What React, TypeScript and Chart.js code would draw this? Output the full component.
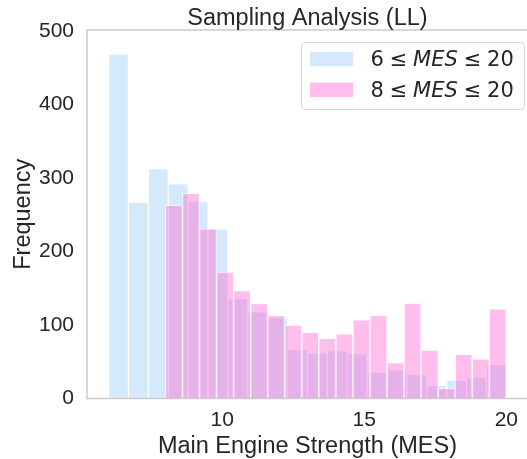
import React, { useEffect, useRef } from "react";
import { Chart, registerables } from "chart.js";

Chart.register(...registerables);

// ---------------- data ----------------
const TITLE = "Sampling Analysis (LL)";
const X_LABEL = "Main Engine Strength (MES)";
const Y_LABEL = "Frequency";
const VAR_NAME = "MES";

const BLUE_RANGE = [6, 20];
const PINK_RANGE = [8, 20];

const blueCounts = [469, 267, 313, 292, 268, 231, 136, 118, 110, 67, 62, 65, 61, 36, 39, 33, 18, 25, 29, 46];
const pinkCounts = [263, 279, 231, 172, 147, 129, 113, 100, 90, 82, 88, 107, 113, 49, 130, 66, 14, 60, 54, 122];

const xTickValues = [10, 15, 20];
const yTickValues = [0, 100, 200, 300, 400, 500];

// ---------------- style ----------------
const W = 527;
const H = 459;
const X_MIN = 5.24;
const X_MAX = 20.47;
const X_FULL_MAX = 20.76;
const Y_MAX = 501.4;

const BLUE = "rgba(147, 202, 247, 0.4)";
const PINK = "rgba(255, 92, 205, 0.4)";
const EDGE = "rgba(255, 255, 255, 0.55)";
const TEXT = "#262626";
const SPINE = "#cccccc";
const SANS = "'Liberation Sans', Arial, sans-serif";
const MATH = "'DejaVu Sans', sans-serif";

function binPoints(range: number[], counts: number[]) {
  const [lo, hi] = range;
  const w = (hi - lo) / counts.length;
  return counts.map((c, i) => ({ x: lo + (i + 0.5) * w, y: c }));
}

const legendItems = [
  { lo: String(BLUE_RANGE[0]), hi: String(BLUE_RANGE[1]), color: BLUE },
  { lo: String(PINK_RANGE[0]), hi: String(PINK_RANGE[1]), color: PINK },
];

const decorPlugin = {
  id: "decor",
  afterDatasetsDraw(chart: any) {
    const { ctx, chartArea, scales } = chart;
    const { left, top, bottom } = chartArea;
    ctx.save();
    // spines
    ctx.strokeStyle = SPINE;
    ctx.lineWidth = 1.5;
    ctx.beginPath();
    ctx.moveTo(W + 5, top);
    ctx.lineTo(left, top);
    ctx.lineTo(left, bottom);
    ctx.lineTo(W + 5, bottom);
    ctx.stroke();

    const cx = (left + scales.x.getPixelForValue(X_FULL_MAX)) / 2;
    const cy = (top + bottom) / 2;
    ctx.fillStyle = TEXT;
    ctx.textAlign = "center";
    ctx.textBaseline = "alphabetic";
    // title
    ctx.font = `23.5px ${SANS}`;
    ctx.fillText(TITLE, cx, 25);
    // x label
    ctx.fillText(X_LABEL, cx, 453.3);
    // y label
    ctx.save();
    ctx.translate(29.5, cy);
    ctx.rotate(-Math.PI / 2);
    ctx.fillText(Y_LABEL, 0, 0);
    ctx.restore();

    // legend
    const lx0 = 301, ly0 = 42, lx1 = 524, ly1 = 109, r = 4;
    ctx.beginPath();
    ctx.roundRect(lx0 + 0.5, ly0 + 0.5, lx1 - lx0, ly1 - ly0, r);
    ctx.fillStyle = "rgba(255,255,255,0.8)";
    ctx.fill();
    ctx.strokeStyle = "#d6d6d6";
    ctx.lineWidth = 1;
    ctx.stroke();

    const baselines = [66.3, 97];
    const fs = 21;
    const thick = (5 / 18) * fs;
    legendItems.forEach((it, k) => {
      const base = baselines[k];
      ctx.fillStyle = it.color;
      ctx.fillRect(310, base - 14.5, 43, 14.5);
      ctx.fillStyle = TEXT;
      ctx.textAlign = "left";
      let x = 370.5;
      const put = (s: string, italic: boolean) => {
        ctx.font = `${italic ? "italic " : ""}${fs}px ${MATH}`;
        ctx.fillText(s, x, base);
        x += ctx.measureText(s).width;
      };
      put(it.lo, false);
      x += thick;
      put("\u2264", false);
      x += thick;
      put(VAR_NAME, true);
      x += thick;
      put("\u2264", false);
      x += thick;
      put(it.hi, false);
    });
    ctx.restore();
  },
};

export default function App() {
  const ref = useRef<HTMLCanvasElement | null>(null);

  useEffect(() => {
    document.body.style.margin = "0";
    const canvas = ref.current;
    if (!canvas) return;
    const tickFont = { family: SANS, size: 21 };
    const chart = new Chart(canvas, {
      type: "bar",
      data: {
        datasets: [
          {
            label: "blue",
            data: binPoints(BLUE_RANGE, blueCounts) as any,
            backgroundColor: BLUE,
            borderColor: EDGE,
            borderWidth: 1,
            xAxisID: "x2",
            grouped: false,
            barPercentage: 1,
            categoryPercentage: 1,
            order: 1,
          } as any,
          {
            label: "pink",
            data: binPoints(PINK_RANGE, pinkCounts) as any,
            backgroundColor: PINK,
            borderColor: EDGE,
            borderWidth: 1,
            xAxisID: "x",
            grouped: false,
            barPercentage: 1,
            categoryPercentage: 1,
            order: 0,
          } as any,
        ],
      },
      options: {
        animation: false,
        responsive: false,
        devicePixelRatio: 1,
        layout: { padding: { top: 30, left: 0, right: 0, bottom: 0 } },
        plugins: {
          legend: { display: false },
          title: { display: false },
          tooltip: { enabled: false },
        },
        scales: {
          x: {
            type: "linear",
            position: "bottom",
            offset: false,
            min: X_MIN,
            max: X_MAX,
            grid: { display: false, drawTicks: false, offset: false },
            border: { display: false },
            ticks: { font: tickFont, color: TEXT, padding: 9, maxRotation: 0 },
            afterBuildTicks: (s: any) => {
              s.ticks = xTickValues.map((v) => ({ value: v }));
            },
            afterFit: (s: any) => {
              s.height = 60.5;
            },
          },
          x2: {
            type: "linear",
            position: "bottom",
            display: false,
            offset: false,
            min: X_MIN,
            max: X_MAX,
            grid: { offset: false },
            afterBuildTicks: (s: any) => {
              s.ticks = xTickValues.map((v) => ({ value: v }));
            },
          },
          y: {
            type: "linear",
            min: 0,
            max: Y_MAX,
            grid: { display: false, drawTicks: false },
            border: { display: false },
            ticks: { font: tickFont, color: TEXT, padding: 13 },
            afterBuildTicks: (s: any) => {
              s.ticks = yTickValues.map((v) => ({ value: v }));
            },
            afterFit: (s: any) => {
              s.width = 87;
            },
          },
        },
      } as any,
      plugins: [decorPlugin],
    });
    return () => chart.destroy();
  }, []);

  return (
    <div style={{ position: "absolute", left: 0, top: 0, width: W, height: H, background: "#fff" }}>
      <canvas ref={ref} width={W} height={H} style={{ width: W, height: H, display: "block" }} />
    </div>
  );
}
